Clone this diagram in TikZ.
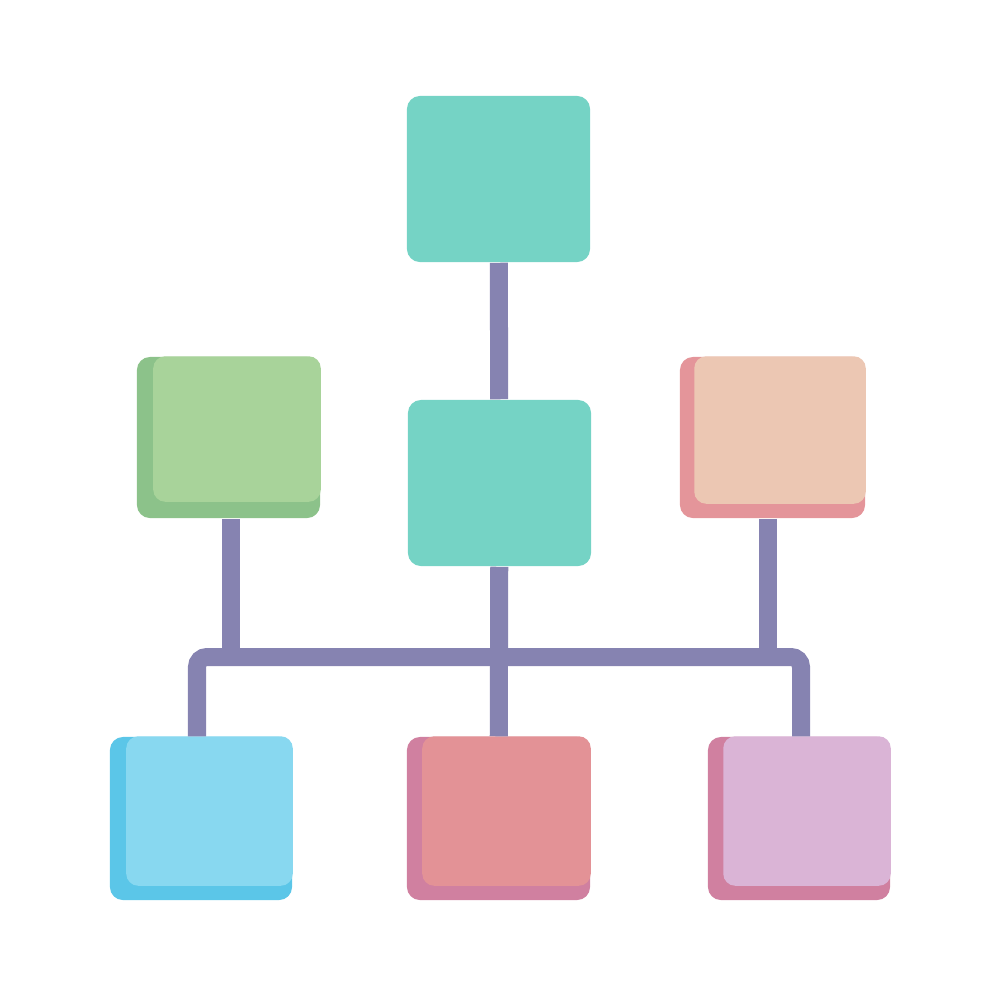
\documentclass[tikz,border=0pt]{standalone}
\usepackage{tikz}
\usetikzlibrary{calc}

\definecolor{wire}{HTML}{8683B1}
\definecolor{teal}{HTML}{75D3C5}
\definecolor{greenback}{HTML}{8CC28A}
\definecolor{greenface}{HTML}{A8D39A}
\definecolor{peachback}{HTML}{E4959A}
\definecolor{peachface}{HTML}{ECC7B3}
\definecolor{blueback}{HTML}{5BC6E8}
\definecolor{blueface}{HTML}{88D8F0}
\definecolor{redback}{HTML}{D080A0}
\definecolor{redface}{HTML}{E39296}
\definecolor{lilacback}{HTML}{D080A0}
\definecolor{lilacface}{HTML}{DAB4D6}

\begin{document}
\begin{tikzpicture}[x=0.01cm,y=-0.01cm,
		tile/.style={rectangle, rounded corners=0.13cm, inner sep=0pt,
			minimum width=1.83cm, minimum height=1.66cm},
		face/.style={rounded corners=0.12cm},
		link/.style={draw=wire, line width=0.18cm}]
		\useasboundingbox (0,0) rectangle (1000,1000);
		
		% Kaesten: oben, Mitte, zweite Reihe, untere Reihe
		\node[tile, fill=teal] (top) at (498.5,179) {};
		\node[tile, fill=teal] (mid) at (499.5,483) {};
		\node[tile, fill=greenback, minimum height=1.61cm] (green) at (228.5,437.5) {};
		\node[tile, fill=peachback, minimum width=1.85cm, minimum height=1.61cm] (peach) at (772.5,437.5) {};
		\node[tile, fill=blueback, minimum width=1.82cm, minimum height=1.63cm] (blue) at (201,818.5) {};
		\node[tile, fill=redback, minimum height=1.63cm] (red) at (498.5,818.5) {};
		\node[tile, fill=lilacback, minimum width=1.82cm, minimum height=1.63cm] (lilac) at (799,818.5) {};
		
		% helle Vorderseiten
		\fill[face, greenface] ($(green.north west)+(17,0)$) rectangle ($(green.south east)+(0,-17)$);
		\fill[face, peachface] ($(peach.north west)+(15,0)$) rectangle ($(peach.south east)+(0,-15)$);
		\fill[face, blueface] ($(blue.north west)+(17,0)$) rectangle ($(blue.south east)+(0,-15)$);
		\fill[face, redface] ($(red.north west)+(16,0)$) rectangle ($(red.south east)+(0,-15)$);
		\fill[face, lilacface] ($(lilac.north west)+(16,0)$) rectangle ($(lilac.south east)+(0,-15)$);
		
		% Verbindungen
		\coordinate (bus) at (499,657);
		\draw[link] (top) -- (mid);
		\draw[link] (mid) -- (red);
		\draw[link, rounded corners=0.1cm] ([xshift=-0.04cm]blue.north) |- (bus) -| ([xshift=0.02cm]lilac.north);
		\draw[link] ([xshift=0.025cm]green.south) -- ([xshift=0.025cm]green.south |- bus);
		\draw[link] ([xshift=-0.045cm]peach.south) -- ([xshift=-0.045cm]peach.south |- bus);
		
	\end{tikzpicture}
\end{document}
